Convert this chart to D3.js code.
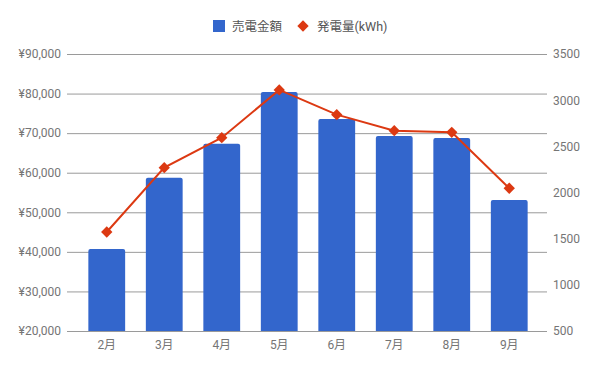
<!DOCTYPE html>
<html><head><meta charset="utf-8">
<script src="https://cdnjs.cloudflare.com/ajax/libs/d3/7.8.5/d3.min.js"></script>
<style>
html,body{margin:0;padding:0;background:#fff;}
svg text{font-family:Roboto,"Noto Sans CJK JP",sans-serif;}
</style></head>
<body>
<svg id="chart" width="600" height="371"></svg>
<script>
const categories = ["2月","3月","4月","5月","6月","7月","8月","9月"];
const salesYen = [40700, 58700, 67300, 80400, 73600, 69300, 68800, 53100];
const generationKWh = [1572, 2269, 2594, 3111, 2843, 2670, 2652, 2046];
const leftTicks = [20000, 30000, 40000, 50000, 60000, 70000, 80000, 90000];
const rightTicks = [500, 1000, 1500, 2000, 2500, 3000, 3500];
const seriesNames = ["売電金額", "発電量(kWh)"];

const svg = d3.select("#chart");
const L = 67, R = 547, T = 54, B = 331;
const barColor = "#3366cc", lineColor = "#dc3912";
const gridColor = "#9a9a9a", textColor = "#757575";

const x = d3.scaleBand().domain(categories).range([L + 11, R - 9]).paddingInner(0.36).paddingOuter(0.18);
const yL = d3.scaleLinear().domain([20000, 90000]).range([B, T]);
const yR = d3.scaleLinear().domain([500, 3500]).range([B, T]);

// gridlines + left axis labels
const yen = d => "¥" + d3.format(",")(d);
const leftAxis = d3.axisLeft(yL).tickValues(leftTicks).tickSize(-(R - L)).tickFormat(yen).tickPadding(6);
const gL = svg.append("g").attr("transform", `translate(${L},0)`).call(leftAxis);
gL.select(".domain").remove();
gL.selectAll(".tick line").attr("stroke", gridColor).attr("stroke-width", 1);
gL.selectAll(".tick text").attr("fill", textColor).attr("font-size", 12);

// right axis labels
const rightAxis = d3.axisRight(yR).tickValues(rightTicks).tickSize(0).tickPadding(6).tickFormat(d3.format("d"));
const gR = svg.append("g").attr("transform", `translate(${R},0)`).call(rightAxis);
gR.select(".domain").remove();
gR.selectAll(".tick text").attr("fill", textColor).attr("font-size", 12);

// bars
svg.append("defs").append("clipPath").attr("id","clip").append("rect")
  .attr("x", L).attr("y", 0).attr("width", R - L).attr("height", B);
svg.append("g").attr("clip-path","url(#clip)").selectAll("rect").data(categories).join("rect")
  .attr("x", d => x(d)).attr("width", x.bandwidth())
  .attr("y", (d,i) => yL(salesYen[i])).attr("height", (d,i) => B - yL(salesYen[i]) + 4)
  .attr("rx", 2).attr("fill", barColor);

// bottom axis
const bottomAxis = d3.axisBottom(x).tickSize(0).tickPadding(9);
const gB = svg.append("g").attr("transform", `translate(0,${B})`).call(bottomAxis);
gB.select(".domain").remove();
gB.selectAll(".tick text").attr("fill", textColor).attr("font-size", 12);
svg.append("line").attr("x1", L).attr("x2", R).attr("y1", B + 0.5).attr("y2", B + 0.5)
  .attr("stroke", gridColor).attr("stroke-width", 1);

// line
const cx = d => x(d) + x.bandwidth() / 2;
const line = d3.line().x((d,i) => cx(categories[i])).y(d => yR(d));
svg.append("path").datum(generationKWh).attr("d", line)
  .attr("fill", "none").attr("stroke", lineColor).attr("stroke-width", 2);
const diamond = d3.symbol().type(d3.symbolSquare).size(64);
svg.append("g").selectAll("path").data(generationKWh).join("path")
  .attr("d", diamond)
  .attr("transform", (d,i) => `translate(${cx(categories[i])},${yR(d)}) rotate(45)`)
  .attr("fill", lineColor);

// legend
const lg = svg.append("g");
lg.append("rect").attr("x", 213).attr("y", 20).attr("width", 12).attr("height", 12).attr("fill", barColor);
lg.append("text").attr("x", 232).attr("y", 30.5).attr("font-size", 12.5).attr("fill", "#555").text(seriesNames[0]);
lg.append("path").attr("d", diamond).attr("transform", "translate(303,26) rotate(45)").attr("fill", lineColor);
lg.append("text").attr("x", 317).attr("y", 30.5).attr("font-size", 12.5).attr("fill", "#555").text(seriesNames[1]);
</script>
</body></html>
